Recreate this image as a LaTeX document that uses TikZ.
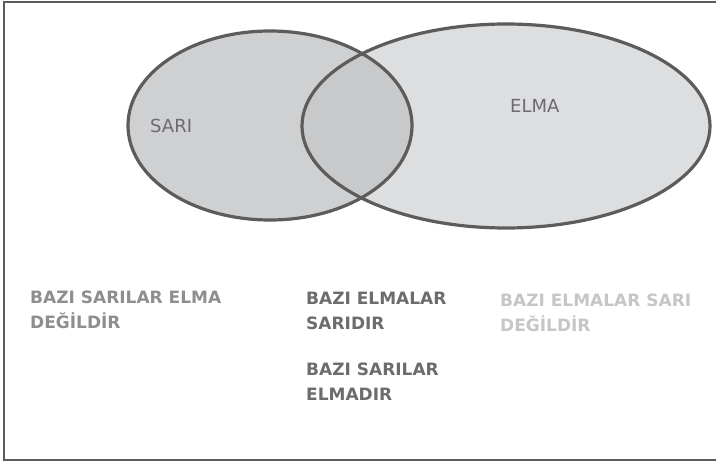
\documentclass[tikz,border=0pt]{standalone}
\usepackage{fontspec}
\setmainfont{DejaVu Sans}
\definecolor{sariFill}{RGB}{207,208,210}
\definecolor{elmaFill}{RGB}{221,222,224}
\definecolor{ortaFill}{RGB}{200,201,203}
\definecolor{kenar}{RGB}{92,92,92}
\definecolor{yaziKoyu}{RGB}{108,108,110}
\definecolor{yaziOrta}{RGB}{142,142,144}
\definecolor{yaziAcik}{RGB}{198,198,200}
\usetikzlibrary{positioning}
\tikzset{
    etiket/.style={inner sep=0pt, anchor=base west, text=yaziKoyu, font=\fontsize{18}{20}\selectfont},
    cumle/.style={inner sep=0pt, anchor=north west, align=left, font=\fontsize{17}{25}\bfseries\selectfont}
}
\begin{document}
\begin{tikzpicture}[x=1pt, y=-1pt]
    \useasboundingbox (0,0) rectangle (716,463);
    \draw[kenar, line width=1.5pt] (4,2) rectangle (720,460);
    %
    \fill[sariFill] (270,125.5) ellipse (142 and 94.5);
    \fill[elmaFill] (506,126) ellipse (204 and 102);
    \begin{scope}
        \clip (270,125.5) ellipse (142 and 94.5);
        \fill[ortaFill] (506,126) ellipse (204 and 102);
    \end{scope}
    \draw[kenar, line width=3.2pt] (270,125.5) ellipse (142 and 94.5);
    \draw[kenar, line width=3.2pt] (506,126) ellipse (204 and 102);
    %
    \node[etiket] (sari) at (150,132) {SARI};
    \node[etiket] (elma) at (510,112) {ELMA};
    %
    \node[cumle, text=yaziOrta] (sol) at (30,291) {BAZI SARILAR ELMA\\DEĞİLDİR};
    \node[cumle, text=yaziKoyu] (orta1) at (306,292) {BAZI ELMALAR\\SARIDIR};
    \node[cumle, text=yaziKoyu] (orta2) at (306,363) {BAZI SARILAR\\ELMADIR};
    \node[cumle, text=yaziAcik] (sag) at (500,294) {BAZI ELMALAR SARI\\DEĞİLDİR};
\end{tikzpicture}
\end{document}
